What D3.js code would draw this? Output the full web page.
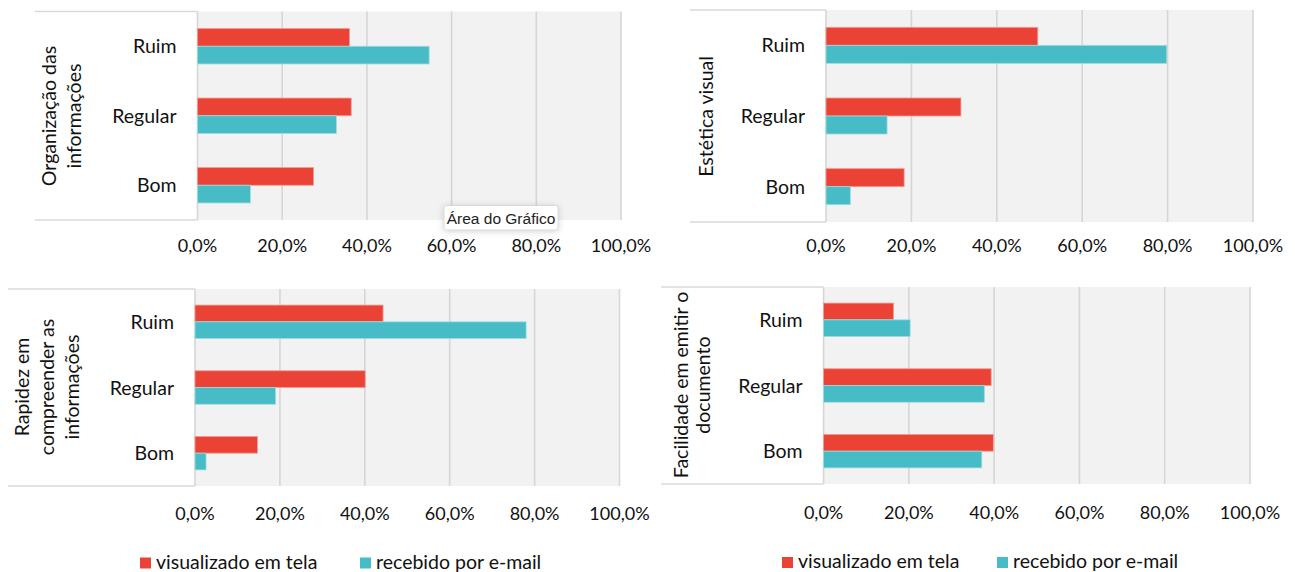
<!DOCTYPE html>
<html lang="pt-BR">
<head>
<meta charset="utf-8">
<title>Avaliação do documento</title>
<script src="https://cdn.jsdelivr.net/npm/d3@7"></script>
<style>
  html, body { margin: 0; padding: 0; background: #ffffff; }
  svg { display: block; font-family: Lato, "Open Sans", sans-serif; }
</style>
</head>
<body>
<svg id="chart" width="1295" height="572"></svg>
<script>
// ---- data ----
const categories = ["Ruim", "Regular", "Bom"];
const seriesNames = ["visualizado em tela", "recebido por e-mail"];
const panelTitles = [
  ["Organização das", "informações"],
  ["Estética visual"],
  ["Rapidez em", "compreender as", "informações"],
  ["Facilidade em emitir o", "documento"]
];
// percentages per panel, in category order (Ruim, Regular, Bom)
const telaValues = [
  [35.9, 36.3, 27.4],
  [49.6, 31.6, 18.3],
  [44.3, 40.1, 14.7],
  [16.4, 39.3, 39.8]
];
const emailValues = [
  [54.7, 32.8, 12.5],
  [79.8, 14.3, 5.7],
  [78.0, 19.0, 2.6],
  [20.3, 37.7, 37.1]
];
const tickValues = [0, 20, 40, 60, 80, 100];
const tooltipText = "Área do Gráfico";

// ---- layout & style ----
const colors = ["#EA4335", "#47BCC6"];
const strokes = ["#F39C95", "#9FDCE1"];
const labelSize = 19.5;
const panels = [
  { x0: 197.5, x1: 621,  top: 11.5, bottom: 220, boxLeft: 35,  tickY: 252,   titleX: [56, 81],      titleY: 116 },
  { x0: 826,   x1: 1253, top: 10,   bottom: 222, boxLeft: 690, tickY: 252,   titleX: [713],         titleY: 116.5 },
  { x0: 195,   x1: 619.5,top: 289,  bottom: 486, boxLeft: 8,   tickY: 520,   titleX: [29, 54, 79],  titleY: 387 },
  { x0: 823.6, x1: 1250, top: 287,  bottom: 484, boxLeft: 661, tickY: 518.5, titleX: [688, 710],    titleY: 385 }
];
const legends = [
  { x: 140, y: 557.5, gap: 220 },
  { x: 782, y: 557,   gap: 215 }
];

const ptBR = d3.formatLocale({ decimal: ",", thousands: ".", grouping: [3], currency: ["R$", ""] });
const fmt = v => ptBR.format(".1f")(v) + "%";

const svg = d3.select("#chart");

panels.forEach((p, i) => {
  const g = svg.append("g");
  const x = d3.scaleLinear().domain([0, 100]).range([p.x0, p.x1]);
  const y = d3.scaleBand().domain(categories).range([p.top, p.bottom])
    .paddingInner(0.49).paddingOuter(0.245);
  const ySub = d3.scaleBand().domain(seriesNames).range([0, y.bandwidth()]);

  // white label box with top & bottom rules
  g.append("rect").attr("x", p.boxLeft).attr("y", p.top)
    .attr("width", p.x0 - p.boxLeft).attr("height", p.bottom - p.top).attr("fill", "#ffffff");
  [p.top, p.bottom].forEach(yy => {
    g.append("line").attr("x1", p.boxLeft).attr("x2", p.x0).attr("y1", yy).attr("y2", yy)
      .attr("stroke", "#DADADA").attr("stroke-width", 1.5);
  });

  // plot background
  g.append("rect").attr("x", p.x0).attr("y", p.top)
    .attr("width", p.x1 - p.x0).attr("height", p.bottom - p.top).attr("fill", "#F2F2F2");

  // vertical gridlines
  g.selectAll(".grid").data(tickValues).join("line")
    .attr("x1", d => x(d)).attr("x2", d => x(d))
    .attr("y1", p.top).attr("y2", p.bottom)
    .attr("stroke", "#D6D6D6").attr("stroke-width", 1.6);

  // bars
  const rows = categories.map((c, k) => ({ cat: c, vals: [telaValues[i][k], emailValues[i][k]] }));
  const grp = g.selectAll(".cat").data(rows).join("g")
    .attr("transform", d => `translate(0,${y(d.cat)})`);
  grp.selectAll("rect").data(d => d.vals.map((v, s) => ({ v, s }))).join("rect")
    .attr("x", x(0))
    .attr("y", d => ySub(seriesNames[d.s]))
    .attr("width", d => x(d.v) - x(0))
    .attr("height", ySub.bandwidth())
    .attr("fill", d => colors[d.s])
    .attr("stroke", d => strokes[d.s])
    .attr("stroke-width", 0.8);

  // category labels
  g.selectAll(".catlab").data(categories).join("text")
    .attr("x", p.x0 - 21)
    .attr("y", d => y(d) + y.bandwidth() / 2)
    .attr("dy", "0.36em")
    .attr("text-anchor", "end")
    .attr("font-size", labelSize).attr("fill", "#111")
    .text(d => d);

  // x tick labels
  g.selectAll(".tick").data(tickValues).join("text")
    .attr("x", d => x(d)).attr("y", p.tickY)
    .attr("text-anchor", "middle")
    .attr("font-size", 18).attr("fill", "#111")
    .text(d => fmt(d));

  // rotated panel title
  panelTitles[i].forEach((line, j) => {
    g.append("text")
      .attr("transform", `translate(${p.titleX[j]},${p.titleY}) rotate(-90)`)
      .attr("text-anchor", "middle")
      .attr("font-size", labelSize).attr("fill", "#111")
      .text(line);
  });
});

// legends
legends.forEach(L => {
  const lg = svg.append("g").attr("transform", `translate(${L.x},${L.y})`);
  seriesNames.forEach((name, s) => {
    const ox = s * L.gap;
    lg.append("rect").attr("x", ox).attr("y", 0).attr("width", 11).attr("height", 11)
      .attr("fill", colors[s]);
    lg.append("text").attr("x", ox + 16).attr("y", 11)
      .attr("font-size", labelSize).attr("fill", "#111").text(name);
  });
});

// hover tooltip over the first panel
const defs = svg.append("defs");
const f = defs.append("filter").attr("id", "tipShadow").attr("x", "-20%").attr("y", "-50%")
  .attr("width", "140%").attr("height", "200%");
f.append("feDropShadow").attr("dx", 0).attr("dy", 1).attr("stdDeviation", 3)
  .attr("flood-color", "#000").attr("flood-opacity", 0.18);
const tip = svg.append("g").attr("transform", "translate(444,205.5)");
tip.append("rect").attr("width", 114).attr("height", 24.5).attr("rx", 2)
  .attr("fill", "#ffffff").attr("stroke", "#D0D0D0").attr("stroke-width", 0.8)
  .attr("filter", "url(#tipShadow)");
tip.append("text").attr("x", 57).attr("y", 18.5).attr("text-anchor", "middle")
  .attr("font-size", 15.5).attr("fill", "#222")
  .attr("font-family", "'Liberation Sans', Arial, sans-serif")
  .text(tooltipText);
</script>
</body>
</html>
